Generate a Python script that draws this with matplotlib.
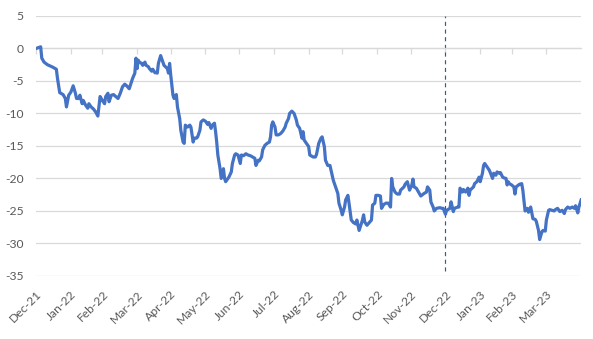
import numpy as np
import pandas as pd
import matplotlib
matplotlib.use("Agg")
import matplotlib.pyplot as plt

# days since 31-Dec-2021 and the cumulative return (%) on each of them
days = [0, 4, 5, 7, 10, 15, 18, 19, 21, 24, 26, 27, 29, 31, 33, 35, 36, 38, 39, 41,
        42, 44, 46, 47, 49, 51, 53, 55, 57, 59, 61, 62, 64, 65, 67, 69, 71, 73, 75, 77,
        79, 81, 83, 86, 88, 89, 90, 91, 92, 94, 95, 97, 98, 100, 101, 103, 104, 106, 107, 108,
        109, 111, 113, 114, 117, 118, 119, 120, 121, 122, 123, 125, 126, 128, 129, 131, 132, 133, 135, 137,
        138, 140, 141, 143, 144, 146, 147, 149, 151, 153, 154, 156, 157, 159, 160, 161, 162, 164, 165, 167,
        168, 169, 171, 172, 174, 175, 177, 178, 180, 182, 183, 185, 187, 189, 191, 193, 195, 196, 198, 199,
        201, 202, 204, 206, 208, 209, 210, 211, 213, 214, 216, 218, 220, 222, 223, 225, 226, 228, 230, 232,
        233, 235, 237, 238, 239, 241, 243, 244, 247, 249, 250, 252, 254, 255, 257, 258, 260, 262, 265, 267,
        269, 270, 272, 273, 275, 276, 278, 279, 281, 283, 285, 286, 288, 291, 292, 293, 295, 297, 299, 300,
        302, 303, 305, 307, 308, 310, 312, 314, 316, 317, 318, 320, 322, 324, 325, 328, 329, 331, 333, 335,
        336, 337, 339, 340, 342, 343, 346, 348, 349, 351, 352, 354, 355, 357, 360, 362, 363, 365, 366, 369,
        370, 372, 373, 376, 377, 378, 380, 381, 383, 385, 386, 387, 390, 391, 393, 395, 396, 398, 399, 400,
        402, 404, 405, 407, 408, 410, 411, 413, 414, 416, 417, 419, 420, 421, 422, 424, 426, 427, 428, 431,
        433, 434, 436, 438, 439, 441, 443, 445, 446, 448, 449, 451, 452, 454, 455, 457, 458, 460, 462, 463,
        465, 467, 469, 471, 472, 474, 476, 478, 480, 481, 483, 484, 486]
values = [0.0, 0.25, -1.5, -2.1, -2.5, -2.9, -3.2, -4.6, -6.8, -7.1, -7.7, -9.0, -7.2, -6.7, -5.75, -6.9, -7.7, -7.7, -7.2, -8.5,
          -8.0, -8.7, -9.2, -8.5, -9.0, -9.3, -9.75, -10.4, -7.4, -8.0, -8.5, -7.4, -6.9, -8.2, -7.2, -7.1, -7.4, -7.7, -6.9, -5.9,
          -5.5, -5.8, -6.2, -4.6, -3.8, -1.5, -3.1, -1.8, -2.1, -2.3, -2.6, -2.1, -2.6, -2.8, -3.1, -3.5, -3.2, -3.75, -3.7, -3.8,
          -2.3, -1.1, -2.1, -2.6, -3.1, -3.8, -2.3, -4.1, -5.6, -7.2, -7.7, -7.1, -9.0, -10.8, -12.6, -14.4, -14.6, -11.8, -12.1, -11.8,
          -12.1, -14.4, -13.8, -13.8, -13.6, -12.6, -11.3, -11.0, -11.2, -11.7, -11.4, -12.3, -11.8, -11.5, -12.8, -14.4, -16.4, -18.5, -20.0, -18.5,
          -20.0, -20.5, -20.0, -19.75, -19.0, -17.7, -16.4, -16.2, -16.4, -17.7, -16.4, -16.5, -16.2, -16.4, -16.5, -16.7, -16.9, -18.0, -17.2, -17.3,
          -16.7, -15.6, -14.9, -14.6, -14.4, -13.6, -11.8, -11.3, -12.1, -13.3, -13.3, -13.1, -12.7, -12.1, -11.5, -10.8, -10.0, -9.65, -10.0, -11.0,
          -11.8, -12.3, -13.8, -12.8, -14.1, -14.6, -15.1, -16.4, -16.7, -16.7, -16.3, -14.6, -13.8, -13.6, -15.1, -17.2, -18.0, -18.0, -20.3, -21.3,
          -22.3, -23.8, -24.9, -25.6, -24.4, -23.3, -22.6, -23.8, -26.4, -26.8, -27.0, -26.4, -28.0, -26.4, -25.6, -26.7, -27.2, -26.8, -26.4, -24.1,
          -23.8, -22.6, -22.6, -22.7, -24.6, -24.0, -23.8, -23.8, -24.4, -20.0, -21.3, -22.1, -22.4, -22.4, -21.8, -21.3, -20.9, -20.5, -21.8, -21.0,
          -20.1, -21.3, -21.5, -21.8, -22.4, -22.7, -22.3, -22.1, -21.3, -21.8, -23.6, -24.4, -25.0, -24.6, -24.5, -24.6, -24.6, -25.5, -24.9, -24.6,
          -23.6, -25.1, -24.6, -24.4, -24.4, -21.5, -22.1, -21.7, -22.1, -21.5, -22.6, -21.8, -21.3, -20.8, -20.5, -19.8, -20.5, -19.2, -18.0, -17.7,
          -18.2, -18.7, -19.1, -20.0, -19.2, -19.5, -19.0, -19.2, -19.1, -19.8, -19.9, -20.0, -21.0, -20.5, -20.8, -21.0, -21.3, -22.4, -21.3, -20.9,
          -20.8, -21.8, -25.0, -24.6, -25.2, -24.4, -26.2, -26.3, -26.6, -28.0, -29.4, -28.2, -28.0, -28.1, -26.4, -24.9, -24.8, -24.9, -25.0, -24.8,
          -24.6, -25.1, -24.9, -25.4, -24.8, -24.4, -24.6, -24.4, -24.6, -24.2, -25.3, -24.4, -23.3]

start = pd.Timestamp("2021-12-31")
year_end = pd.Timestamp("2022-12-31")
month_ticks = pd.date_range("2021-12-31", "2023-03-31", freq=pd.offsets.MonthEnd())
y_ticks = np.arange(-35, 6, 5)

dates = start + pd.to_timedelta(days, unit="D")

grey_text = "#595959"
grid_col = "#d9d9d9"

fig = plt.figure(figsize=(5.93, 3.39), dpi=100)
ax = fig.add_axes([0.061, 0.186, 0.919, 0.767])

ax.plot(dates, values, color="#4472c4", linewidth=2.3, solid_joinstyle="round", zorder=3)
# year-end marker, stops just short of the bottom gridline
ax.axvline(year_end, ymin=0.02, ymax=1.0, color="#3e5a82", linewidth=0.85,
           linestyle=(0, (3.5, 3)), zorder=2)

ax.set_ylim(-35, 5)
ax.set_yticks(y_ticks)
ax.set_yticklabels([str(v) for v in y_ticks], fontsize=8.7, color=grey_text, family="Lato")
ax.tick_params(axis="y", length=0, pad=9)
ax.grid(axis="y", color=grid_col, linewidth=0.9)
ax.set_axisbelow(True)
ax.set_xlim(dates[0], dates[-1])

for side in ["left", "right", "top"]:
    ax.spines[side].set_visible(False)

# horizontal axis sits at zero with small tick marks, labels stay at the bottom
ax.spines["bottom"].set_position(("data", 0))
ax.spines["bottom"].set_color(grid_col)
ax.spines["bottom"].set_linewidth(0.9)
ax.set_xticks(month_ticks)
ax.tick_params(axis="x", length=4, width=0.9, color=grid_col, direction="out", labelbottom=False)

sec = ax.secondary_xaxis("bottom")
sec.set_xticks(month_ticks)
sec.set_xticklabels([d.strftime("%b-%y") for d in month_ticks], rotation=45, ha="right",
                    rotation_mode="anchor", fontsize=8.7, color=grey_text, family="Lato")
sec.tick_params(axis="x", length=0, pad=9)
sec.spines["bottom"].set_visible(False)

fig.savefig("out.png", dpi=100)
